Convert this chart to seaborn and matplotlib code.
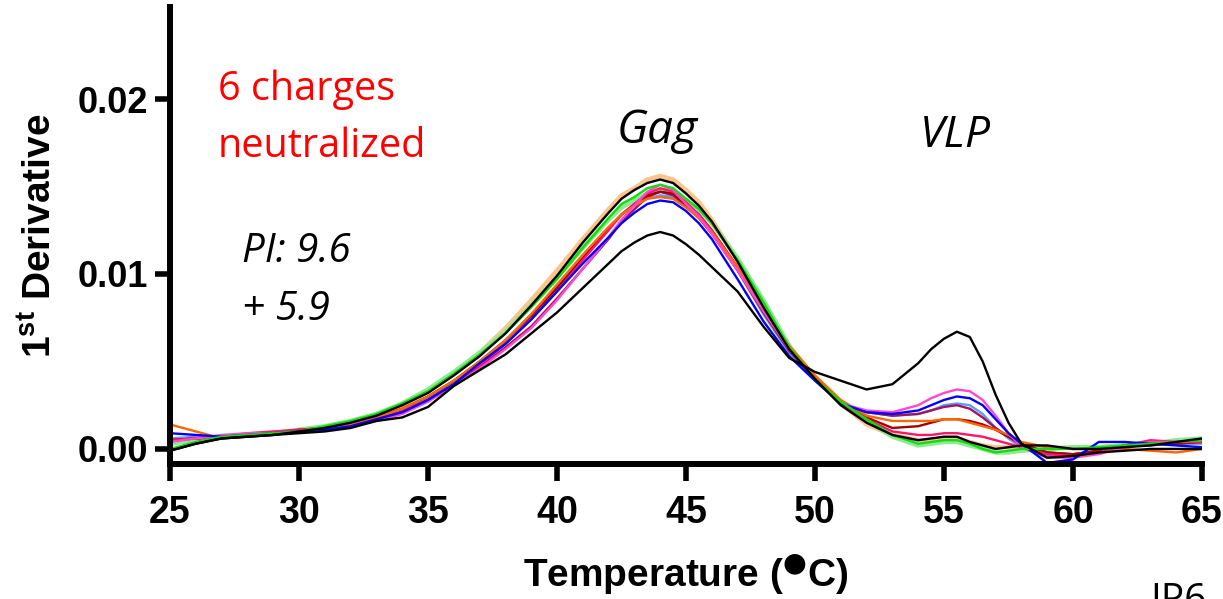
import numpy as np
import pandas as pd
import matplotlib
matplotlib.use("Agg")
import matplotlib.pyplot as plt
import seaborn as sns

# ---------------- data ----------------
temperature = [25, 26, 27, 28, 29, 30, 31, 32, 33, 34, 35, 36, 37, 38, 39, 40, 41, 42, 42.5,
               43, 43.5, 44, 44.5, 45, 45.5, 46, 47, 48, 49, 50,
               51, 52, 53, 54, 54.5, 55, 55.5, 56, 56.5, 57, 57.5, 58, 59, 60, 61, 62, 63, 64, 65]

peach = [0.0004, 0.0006, 0.0007, 0.0008, 0.0009, 0.0010, 0.0012, 0.0015, 0.0019, 0.0025, 0.0033, 0.0043, 0.0055, 0.0069,
         0.0085, 0.0102, 0.0120, 0.0137, 0.0145, 0.0149, 0.0154, 0.0156, 0.0154, 0.0148, 0.0141, 0.0131, 0.0108, 0.0083,
         0.0058, 0.0041, 0.0026, 0.0014, 0.0008, 0.0005, 0.0005, 0.0006, 0.0006, 0.0004, 0.0002, 0.0001, 0.0001, 0.0001,
         0.0000, 0.0001, 0.0001, 0.0002, 0.0003, 0.0003, 0.0004]
light_green = [0.0003, 0.0005, 0.0007, 0.0008, 0.0009, 0.0011, 0.0013, 0.0016, 0.0020, 0.0026, 0.0034, 0.0044, 0.0055, 0.0067,
               0.0082, 0.0098, 0.0115, 0.0131, 0.0138, 0.0142, 0.0146, 0.0148, 0.0147, 0.0142, 0.0137, 0.0129, 0.0109, 0.0085,
               0.0059, 0.0040, 0.0026, 0.0016, 0.0007, 0.0002, 0.0003, 0.0004, 0.0004, 0.0002, 0.0000, -0.0002, -0.0002, -0.0001,
               0.0000, 0.0001, 0.0001, 0.0002, 0.0003, 0.0005, 0.0006]
light_blue = [0.0006, 0.0007, 0.0007, 0.0008, 0.0009, 0.0010, 0.0012, 0.0014, 0.0018, 0.0022, 0.0029, 0.0038, 0.0050, 0.0062,
              0.0077, 0.0093, 0.0110, 0.0126, 0.0134, 0.0139, 0.0143, 0.0145, 0.0144, 0.0139, 0.0133, 0.0124, 0.0102, 0.0077,
              0.0055, 0.0040, 0.0026, 0.0021, 0.0019, 0.0020, 0.0022, 0.0025, 0.0026, 0.0025, 0.0020, 0.0012, 0.0006, 0.0001,
              -0.0004, -0.0004, -0.0001, 0.0002, 0.0002, 0.0003, 0.0003]
purple = [0.0005, 0.0006, 0.0007, 0.0008, 0.0009, 0.0010, 0.0011, 0.0013, 0.0017, 0.0021, 0.0028, 0.0037, 0.0047, 0.0058,
          0.0070, 0.0086, 0.0103, 0.0120, 0.0130, 0.0137, 0.0144, 0.0147, 0.0145, 0.0139, 0.0132, 0.0123, 0.0102, 0.0078,
          0.0056, 0.0040, 0.0026, 0.0021, 0.0019, 0.0020, 0.0022, 0.0024, 0.0025, 0.0023, 0.0018, 0.0012, 0.0007, 0.0002,
          -0.0002, -0.0003, -0.0001, 0.0001, 0.0003, 0.0004, 0.0004]
dark_red = [0.0005, 0.0006, 0.0007, 0.0008, 0.0009, 0.0011, 0.0012, 0.0014, 0.0018, 0.0023, 0.0030, 0.0039, 0.0050, 0.0062,
            0.0076, 0.0092, 0.0109, 0.0126, 0.0134, 0.0140, 0.0145, 0.0147, 0.0146, 0.0140, 0.0134, 0.0125, 0.0104, 0.0080,
            0.0057, 0.0041, 0.0026, 0.0018, 0.0012, 0.0013, 0.0015, 0.0017, 0.0017, 0.0016, 0.0014, 0.0011, 0.0007, 0.0003,
            -0.0002, -0.0003, -0.0001, 0.0002, 0.0003, 0.0003, 0.0004]
crimson = [0.0005, 0.0006, 0.0007, 0.0009, 0.0010, 0.0011, 0.0012, 0.0014, 0.0017, 0.0022, 0.0028, 0.0037, 0.0048, 0.0060,
           0.0074, 0.0090, 0.0108, 0.0125, 0.0134, 0.0140, 0.0146, 0.0149, 0.0147, 0.0141, 0.0134, 0.0125, 0.0104, 0.0080,
           0.0058, 0.0041, 0.0026, 0.0017, 0.0010, 0.0008, 0.0008, 0.0009, 0.0009, 0.0008, 0.0007, 0.0005, 0.0003, 0.0001,
           -0.0003, -0.0004, -0.0002, 0.0002, 0.0005, 0.0004, 0.0004]
orange = [0.0014, 0.0010, 0.0006, 0.0007, 0.0008, 0.0010, 0.0012, 0.0014, 0.0018, 0.0023, 0.0030, 0.0039, 0.0050, 0.0062,
          0.0077, 0.0094, 0.0111, 0.0127, 0.0134, 0.0139, 0.0143, 0.0144, 0.0143, 0.0138, 0.0132, 0.0124, 0.0104, 0.0081,
          0.0059, 0.0042, 0.0028, 0.0019, 0.0016, 0.0016, 0.0016, 0.0017, 0.0017, 0.0015, 0.0013, 0.0011, 0.0008, 0.0004,
          0.0001, 0.0000, 0.0000, 0.0000, -0.0001, -0.0002, 0.0000]
magenta = [0.0004, 0.0006, 0.0008, 0.0009, 0.0009, 0.0010, 0.0011, 0.0013, 0.0016, 0.0020, 0.0027, 0.0036, 0.0046, 0.0057,
           0.0069, 0.0085, 0.0103, 0.0121, 0.0131, 0.0139, 0.0147, 0.0151, 0.0148, 0.0140, 0.0133, 0.0123, 0.0102, 0.0079,
           0.0057, 0.0040, 0.0026, 0.0022, 0.0021, 0.0025, 0.0029, 0.0032, 0.0034, 0.0033, 0.0028, 0.0019, 0.0009, 0.0001,
           -0.0005, -0.0005, -0.0003, 0.0001, 0.0004, 0.0004, 0.0005]
blue = [0.0009, 0.0008, 0.0007, 0.0008, 0.0009, 0.0010, 0.0011, 0.0013, 0.0017, 0.0021, 0.0028, 0.0037, 0.0049, 0.0060,
        0.0074, 0.0090, 0.0106, 0.0121, 0.0129, 0.0135, 0.0140, 0.0142, 0.0141, 0.0136, 0.0129, 0.0120, 0.0097, 0.0073,
        0.0053, 0.0039, 0.0026, 0.0021, 0.0020, 0.0022, 0.0025, 0.0028, 0.0030, 0.0029, 0.0025, 0.0017, 0.0009, 0.0003,
        -0.0008, -0.0006, 0.0004, 0.0004, 0.0003, 0.0002, 0.0001]
green = [0.0000, 0.0004, 0.0007, 0.0008, 0.0009, 0.0010, 0.0013, 0.0016, 0.0020, 0.0026, 0.0033, 0.0043, 0.0054, 0.0066,
         0.0081, 0.0097, 0.0115, 0.0132, 0.0140, 0.0144, 0.0149, 0.0151, 0.0149, 0.0143, 0.0137, 0.0129, 0.0108, 0.0084,
         0.0058, 0.0040, 0.0027, 0.0017, 0.0008, 0.0003, 0.0004, 0.0005, 0.0005, 0.0003, 0.0000, -0.0002, -0.0001, 0.0000,
         0.0000, 0.0000, 0.0001, 0.0002, 0.0003, 0.0004, 0.0005]
black_b = [-0.0001, 0.0003, 0.0006, 0.0007, 0.0008, 0.0010, 0.0012, 0.0015, 0.0019, 0.0025, 0.0032, 0.0042, 0.0053, 0.0066,
           0.0082, 0.0099, 0.0118, 0.0135, 0.0143, 0.0148, 0.0152, 0.0154, 0.0152, 0.0146, 0.0139, 0.0130, 0.0107, 0.0081,
           0.0057, 0.0040, 0.0025, 0.0015, 0.0008, 0.0005, 0.0006, 0.0007, 0.0007, 0.0004, 0.0002, 0.0000, 0.0001, 0.0002,
           0.0002, 0.0000, 0.0000, 0.0001, 0.0002, 0.0004, 0.0006]
black_a = [-0.0001, 0.0003, 0.0006, 0.0007, 0.0008, 0.0009, 0.0010, 0.0012, 0.0016, 0.0018, 0.0024, 0.0036, 0.0045, 0.0054,
           0.0066, 0.0078, 0.0092, 0.0106, 0.0113, 0.0118, 0.0122, 0.0124, 0.0122, 0.0117, 0.0111, 0.0104, 0.0090, 0.0070,
           0.0052, 0.0044, 0.0039, 0.0034, 0.0037, 0.0049, 0.0057, 0.0063, 0.0067, 0.0064, 0.0050, 0.0031, 0.0015, 0.0003,
           -0.0005, -0.0004, -0.0002, -0.0001, 0.0000, 0.0000, 0.0000]

series_names = ["peach", "light_green", "light_blue", "purple", "dark_red", "crimson",
                "orange", "magenta", "blue", "green", "black_b", "black_a"]
series_values = [peach, light_green, light_blue, purple, dark_red, crimson,
                 orange, magenta, blue, green, black_b, black_a]
series_colors = {"peach": "#FFC48C", "light_green": "#8EEA8E", "light_blue": "#5C9CFF",
                 "purple": "#A3145C", "dark_red": "#A30000", "crimson": "#FF1468",
                 "orange": "#FF6600", "magenta": "#FF48CE", "blue": "#0000FF",
                 "green": "#0FDD0F", "black_b": "#000000", "black_a": "#000000"}
series_widths = {"peach": 3.2, "light_green": 3.2}

x_ticks = [25, 30, 35, 40, 45, 50, 55, 60, 65]
y_ticks = [0.00, 0.01, 0.02]
y_tick_labels = ["0.00", "0.01", "0.02"]

df = pd.concat([pd.DataFrame({"Temperature": temperature, "Value": v, "series": n})
                for n, v in zip(series_names, series_values)], ignore_index=True)

# ---------------- figure ----------------
sns.set_theme(style="white")
plt.rcParams["font.family"] = ["Liberation Sans", "DejaVu Sans"]
plt.rcParams["text.color"] = "black"
plt.rcParams["axes.labelcolor"] = "black"
plt.rcParams["xtick.color"] = "black"
plt.rcParams["ytick.color"] = "black"
plt.rcParams["mathtext.fontset"] = "custom"
plt.rcParams["mathtext.default"] = "rm"
plt.rcParams["mathtext.rm"] = "DejaVu Sans:bold"
plt.rcParams["mathtext.bf"] = "Liberation Sans:bold"

W, H = 1223, 599
fig = plt.figure(figsize=(W / 100, H / 100), dpi=100)
ax = fig.add_axes([170 / W, 1 - 464 / H, (1202 - 170) / W, (464 - 7) / H])

for name in series_names:
    sub = df[df["series"] == name]
    sns.lineplot(data=sub, x="Temperature", y="Value", ax=ax, color=series_colors[name],
                 lw=series_widths.get(name, 1.7), estimator=None, sort=False, legend=False)

ax.set_xlim(25, 65)
ax.set_ylim(-0.00086, 0.02526)
ax.set_xticks(x_ticks)
ax.set_xticklabels([str(t) for t in x_ticks], fontsize=27, fontweight="bold", color="black")
ax.set_yticks(y_ticks)
ax.set_yticklabels(y_tick_labels, fontsize=26, fontweight="bold", color="black")
for s in ["top", "right"]:
    ax.spines[s].set_visible(False)
for s in ["left", "bottom"]:
    ax.spines[s].set_linewidth(4.3)
    ax.spines[s].set_color("black")
ax.tick_params(axis="x", direction="out", length=12, width=4, pad=10, colors="black", bottom=True)
ax.tick_params(axis="y", direction="out", length=11, width=4, pad=5, colors="black", left=True)
ax.set_xlabel("")
ax.set_ylabel("")
ax.grid(False)

def fx(px):
    return px / W

def fy(py):
    return 1 - py / H

fig.text(fx(686), fy(587), "Temperature ($^{\u25cf}$C)", ha="center", va="baseline",
         fontsize=28, fontweight="bold", color="black")
fig.text(fx(40), fy(236), "1$^{\\mathbf{st}}$ Derivative", ha="center", va="center",
         rotation=90, fontsize=28, fontweight="bold", color="black")

ann = dict(family=["Open Sans", "DejaVu Sans"])
fig.text(fx(218), fy(100), "6 charges", color="#FF0000", fontsize=28.5, va="baseline", **ann)
fig.text(fx(218), fy(157), "neutralized", color="#FF0000", fontsize=28.5, va="baseline", **ann)
fig.text(fx(242), fy(262), "PI: 9.6", color="black", fontsize=29, style="italic", va="baseline", **ann)
fig.text(fx(242), fy(320), "+ 5.9", color="black", fontsize=29, style="italic", va="baseline", **ann)
fig.text(fx(617), fy(143), "Gag", color="black", fontsize=33, style="italic", va="baseline", **ann)
fig.text(fx(920), fy(147), "VLP", color="black", fontsize=32, style="italic", va="baseline", **ann)
fig.text(fx(1150), fy(611), "IP6", color="black", fontsize=28, va="baseline", **ann)

fig.savefig("out.png", dpi=100)
